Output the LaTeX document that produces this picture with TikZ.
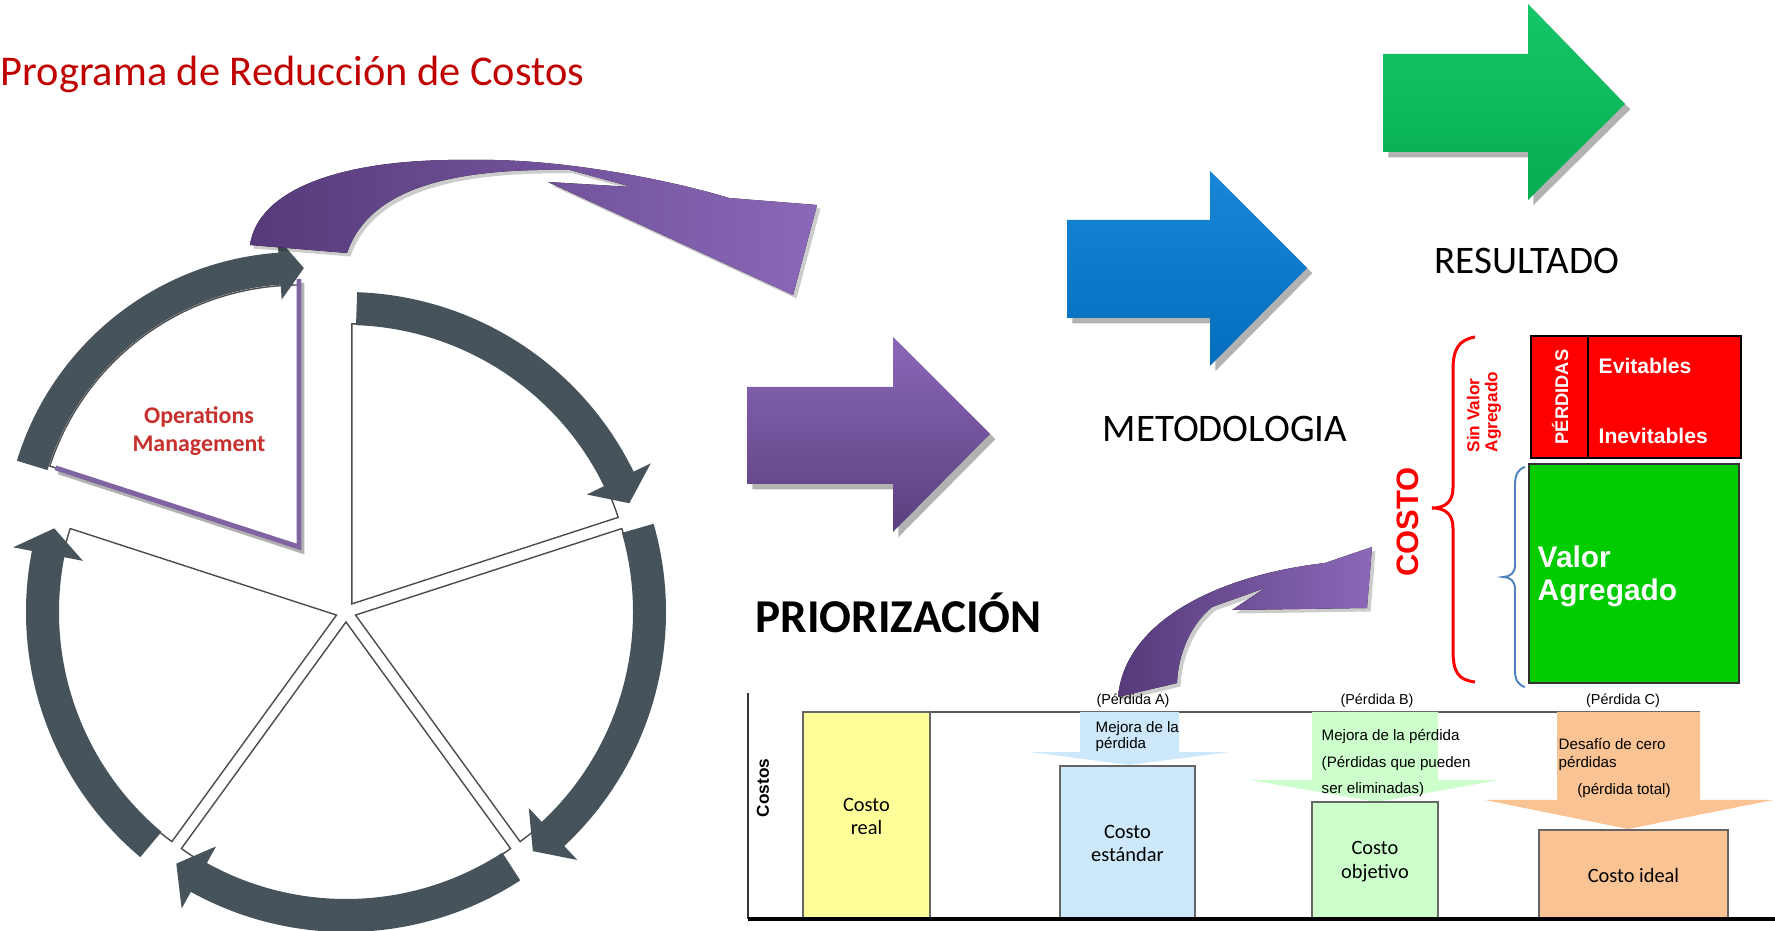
\documentclass[tikz,border=0pt]{standalone}
\usepackage{fontspec}
\setmainfont{Carlito}
\newfontfamily\arialfont{Liberation Sans}
\usetikzlibrary{shadows,fit}

\definecolor{ringgray}{HTML}{46535B}
\definecolor{opurple}{HTML}{8064A2}
\definecolor{darkpurple}{HTML}{563A7A}
\definecolor{lightpurple}{HTML}{8B68B8}
\definecolor{titlered}{HTML}{C00000}
\definecolor{opred}{HTML}{C8302E}
\definecolor{baryellow}{HTML}{FFFF99}
\definecolor{barblue}{HTML}{CCE8FA}
\definecolor{bargreen}{HTML}{CCFFCC}
\definecolor{barorange}{HTML}{FAC393}
\definecolor{vagreen}{HTML}{00CC00}
\definecolor{braceblue}{HTML}{4F81BD}

\tikzset{
  ringarrow/.style={fill=ringgray},
  wedge/.style={draw=black!70,line width=0.4pt,fill=white},
  blockarrow/.style={drop shadow={shadow xshift=1.5pt,shadow yshift=-1.5pt,opacity=.3,fill=black}},
  ribbon/.style={left color=darkpurple,right color=lightpurple,drop shadow={shadow xshift=1pt,shadow yshift=-1pt,opacity=.2,fill=black}},
  bar/.style={draw=black!60,line width=0.4pt,inner sep=0pt},
  barlabel/.style={inner sep=0pt,align=center,font=\fontsize{5.8}{6.8}\selectfont},
  smalltxt/.style={font=\arialfont\fontsize{4.3}{4.6}\selectfont,inner sep=0pt,align=left},
  losslabel/.style={font=\arialfont\fontsize{4.1}{5}\selectfont,inner sep=0pt},
  steplabel/.style={font=\fontsize{11.1}{13}\selectfont,inner sep=0pt},
}

\begin{document}
\begin{tikzpicture}[x=0.01cm,y=0.01cm]
\useasboundingbox (0,0) rectangle (1775,-931);

\node[anchor=base west,inner sep=0pt,text=titlered,font=\fontsize{12.05}{15}\selectfont] (title) at (0,-86) {Programa de Reducción de Costos};

\begin{scope}[shift={(346,-612)}]
  \foreach \a in {54,-18,-90,-162}
    \draw[wedge] (\a:10) -- ++(\a+36:280) arc[start angle=\a+36,end angle=\a-36,radius=280] -- cycle;
  \foreach \s/\t [evaluate=\t as \b using \t+5] in {88/21,16/-52,-57/-124,-130/-196}
    \fill[ringarrow] (\s:320) arc[start angle=\s,end angle=\b,radius=320] -- (\b:339) -- (\t:303.5) -- (\b:268) -- (\b:287) arc[start angle=\b,end angle=\s,radius=287] -- cycle;
\end{scope}

\begin{scope}[shift={(299,-547)}]
  \draw[wedge] (0,0) -- (90:262) arc[start angle=90,end angle=162,radius=262] -- cycle;
  \draw[black!30,line width=1.4pt,shift={(3,-4)}] (162:256) -- (0,0) -- (90:268);
  \draw[opurple,line width=1.4pt] (162:256) -- (0,0) -- (90:268);
  \fill[ringarrow] (163:295) arc[start angle=163,end angle=94,radius=295] -- (94:310) -- (89:279) -- (94:248) -- (94:263) arc[start angle=94,end angle=163,radius=263] -- cycle;
\end{scope}

\node[align=center,inner sep=0pt,text=opred,font=\bfseries\fontsize{6.8}{7.9}\selectfont] (ops) at (199,-431) {Operations\\Management};

\fill[ribbon] (250,-245) .. controls (258,-190) and (340,-158) .. (471,-160) .. controls (560,-158) and (670,-180) .. (729,-198) -- (817,-205) -- (793,-295) -- (548,-182) -- (632,-187) -- (570,-170) .. controls (460,-168) and (370,-185) .. (347,-253) -- cycle;

\shade[blockarrow,top color=lightpurple,bottom color=darkpurple!90!opurple] (747,-387) -- (893,-387) -- (893,-337) -- (990,-434) -- (893,-532) -- (893,-484) -- (747,-484) -- cycle;
\shade[blockarrow,top color={rgb,255:red,24;green,134;blue,214},bottom color={rgb,255:red,5;green,110;blue,190}] (1067,-220) -- (1210,-220) -- (1210,-171) -- (1307,-268) -- (1210,-366) -- (1210,-318) -- (1067,-318) -- cycle;
\shade[blockarrow,top color={rgb,255:red,22;green,198;blue,104},bottom color={rgb,255:red,6;green,174;blue,80}] (1383,-54) -- (1528,-54) -- (1528,-4) -- (1625,-104) -- (1528,-200) -- (1528,-152) -- (1383,-152) -- cycle;

\node[steplabel] (res) at (1527,-261) {RESULTADO};
\node[steplabel] (met) at (1225,-429) {METODOLOGIA};
\node[anchor=base west,inner sep=0pt,font=\bfseries\fontsize{13.4}{16}\selectfont] (prio) at (755,-633) {PRIORIZACIÓN};

\node[fit={(1531,-336) (1741,-458)},fill=red,draw=black,line width=0.6pt,inner sep=0pt] (loss) {};
\draw[line width=0.6pt] (1588,-336) -- (1588,-458);
\node[rotate=90,text=white,inner sep=0pt,font=\arialfont\bfseries\fontsize{5.2}{6}\selectfont] (perd) at (1560,-397) {PÉRDIDAS};
\node[anchor=base west,text=white,inner sep=0pt,font=\arialfont\bfseries\fontsize{6}{7}\selectfont] (evit) at (1598,-374) {Evitables};
\node[anchor=base west,text=white,inner sep=0pt,font=\arialfont\bfseries\fontsize{6}{7}\selectfont] (inev) at (1598,-444) {Inevitables};
\node[fit={(1529,-464) (1739,-683)},fill=vagreen,draw=black!80,line width=0.7pt,inner sep=0pt] (va) {};
\node[anchor=west,align=left,text=white,inner sep=0pt,font=\arialfont\bfseries\fontsize{8.5}{9.4}\selectfont] (vatxt) at (1537,-576) {Valor\\Agregado};

\draw[red,line width=0.85pt] (1475,-337) .. controls (1458,-340) and (1453,-350) .. (1453,-370) -- (1453,-488) .. controls (1453,-502) and (1445,-508) .. (1432,-508) .. controls (1445,-508) and (1453,-514) .. (1453,-528) -- (1453,-650) .. controls (1453,-672) and (1458,-680) .. (1475,-682);
\draw[braceblue,line width=0.55pt] (1525,-467) .. controls (1518,-469) and (1515,-475) .. (1515,-485) -- (1515,-565) .. controls (1515,-573) and (1510,-577) .. (1503,-577) .. controls (1510,-577) and (1515,-581) .. (1515,-589) -- (1515,-670) .. controls (1515,-680) and (1518,-685) .. (1525,-687);
\node[rotate=90,text=red,inner sep=0pt,font=\arialfont\bfseries\fontsize{8.8}{10}\selectfont] (costo) at (1408,-522) {COSTO};
\node[rotate=90,anchor=west,align=left,text=red,inner sep=0pt,font=\arialfont\bfseries\fontsize{4.9}{5.1}\selectfont] (sva) at (1484,-453) {Sin Valor\\Agregado};

\draw[black!65,line width=0.4pt] (804,-712) -- (1700,-712);
\fill[barblue] (1080,-712) -- (1179,-712) -- (1179,-752) -- (1230,-752) -- (1129,-765) -- (1030,-752) -- (1080,-752) -- cycle;
\fill[bargreen] (1312,-712) -- (1438,-712) -- (1438,-780) -- (1499,-780) -- (1377,-802) -- (1250,-780) -- (1312,-780) -- cycle;
\fill[barorange] (1557,-712) -- (1700,-712) -- (1700,-800) -- (1773,-800) -- (1628,-829) -- (1485,-800) -- (1557,-800) -- cycle;

\node[bar,fill=baryellow,fit={(803,-712) (930,-919)}] (real) {};
\node[bar,fill=barblue,fit={(1060,-766) (1195,-919)}] (std) {};
\node[bar,fill=bargreen,fit={(1312,-802) (1438,-919)}] (obj) {};
\node[bar,fill=barorange,fit={(1539,-830) (1728,-919)}] (ideal) {};
\node[barlabel] (reallbl) at ([yshift=-0.01cm]real.center) {Costo\\real};
\node[barlabel] (stdlbl) at ([yshift=-0.01cm]std.center) {Costo\\estándar};
\node[barlabel] (objlbl) at ([yshift=-0.01cm]obj.center) {Costo\\objetivo};
\node[barlabel] (ideallbl) at ([yshift=-0.01cm]ideal.center) {Costo ideal};

\draw[black!80,line width=0.4pt] (748,-693) -- (748,-919);
\draw[line width=1pt] (748,-919) -- (1775,-919);
\node[rotate=90,inner sep=0pt,font=\arialfont\bfseries\fontsize{4.9}{6}\selectfont] (costos) at (763,-788) {Costos};

\node[losslabel] (pa) at (1133,-701) {(Pérdida A)};
\node[losslabel] (pb) at (1377,-701) {(Pérdida B)};
\node[losslabel] (pc) at (1623,-701) {(Pérdida C)};
\node[smalltxt,anchor=north west] (mejA) at (1095,-721) {Mejora de la\\pérdida};
\node[smalltxt,anchor=north west,font=\arialfont\fontsize{4.3}{7.5}\selectfont] (mejB) at (1321,-729) {Mejora de la pérdida\\(Pérdidas que pueden\\ser eliminadas)};
\node[smalltxt,anchor=north west,font=\arialfont\fontsize{4.3}{5.1}\selectfont] (desC) at (1558,-738) {Desafío de cero\\pérdidas};
\node[smalltxt,anchor=base] (totC) at (1624,-795) {(pérdida total)};

\fill[ribbon] (1372,-547) -- (1325,-563) .. controls (1220,-575) and (1125,-620) .. (1118,-697) -- (1177,-683) .. controls (1178,-655) and (1190,-625) .. (1212,-607) -- (1265,-588) -- (1232,-610) -- (1367,-608) -- cycle;
\end{tikzpicture}
\end{document}
